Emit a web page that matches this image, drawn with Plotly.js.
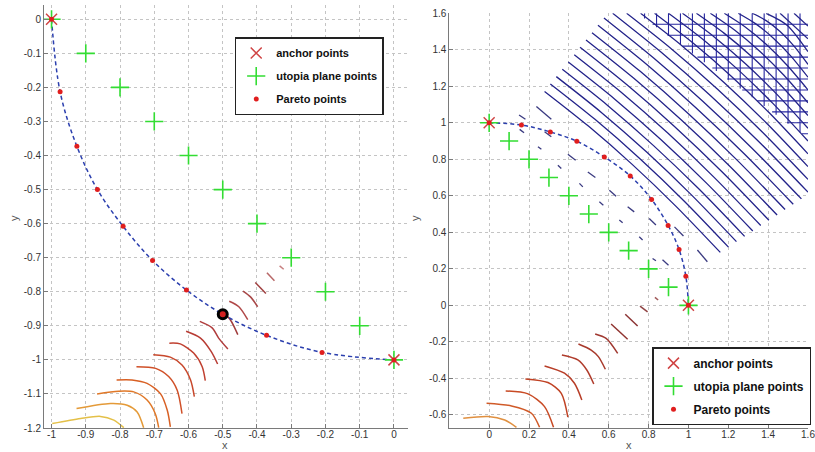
<!DOCTYPE html>
<html><head><meta charset="utf-8">
<script src="https://cdn.plot.ly/plotly-3.0.1.min.js"></script>
<style>html,body{margin:0;padding:0;background:#fff}#chart{width:815px;height:452px}</style>
</head><body><div id="chart"></div>
<script>
// ---------- Left panel data ----------
const anchorL_x = [-1, 0];
const anchorL_y = [0, -1];
const utopiaL_x = [-1, -0.9, -0.8, -0.7, -0.6, -0.5, -0.4, -0.3, -0.2, -0.1, 0];
const utopiaL_y = [0, -0.1, -0.2, -0.3, -0.4, -0.5, -0.6, -0.7, -0.8, -0.9, -1];
const paretoL_x = [-1, -0.975, -0.926, -0.866, -0.791, -0.705, -0.606, -0.5, -0.372, -0.21, 0];
const paretoL_y = [0, -0.213, -0.373, -0.5, -0.608, -0.708, -0.795, -0.866, -0.928, -0.978, -1];
const chosenL_x = [-0.5];
const chosenL_y = [-0.866];
const contL_x = [
  [-0.334,-0.322],[-0.371,-0.349],[-0.405,-0.374],[-0.441,-0.419,-0.398],[-0.481,-0.453,-0.427],
  [-0.507,-0.478,-0.456],[-0.567,-0.531,-0.512,-0.485],[-0.607,-0.565,-0.534,-0.515],
  [-0.656,-0.624,-0.585,-0.560,-0.551],[-0.703,-0.653,-0.619,-0.594,-0.583],
  [-0.752,-0.696,-0.658,-0.633,-0.619],[-0.810,-0.765,-0.721,-0.682,-0.662,-0.653],
  [-0.867,-0.804,-0.760,-0.721,-0.697,-0.687],[-0.927,-0.828,-0.779,-0.750,-0.731],
  [-0.998,-0.915,-0.857,-0.818,-0.789]
];
const contL_y = [
  [-0.724,-0.734],[-0.744,-0.768],[-0.773,-0.805],[-0.798,-0.815,-0.844],[-0.828,-0.844,-0.882],
  [-0.852,-0.882,-0.926],[-0.887,-0.906,-0.936,-0.968],[-0.916,-0.936,-0.975,-1.012],
  [-0.951,-0.953,-0.980,-1.020,-1.061],[-0.985,-0.992,-1.015,-1.059,-1.108],
  [-1.020,-1.025,-1.049,-1.089,-1.158],[-1.059,-1.059,-1.069,-1.099,-1.148,-1.197],
  [-1.100,-1.092,-1.094,-1.118,-1.158,-1.199],[-1.143,-1.128,-1.133,-1.153,-1.199],
  [-1.187,-1.172,-1.166,-1.177,-1.199]
];
const contL_color = ['#c88080','#b86868','#a04040','#a84848','#b04848','#a03c3c','#b03c3c','#b83c34',
  '#c04030','#c8482c','#d05028','#d86024','#e07828','#e49a38','#e4c048'];
const xticksL = [-1,-0.9,-0.8,-0.7,-0.6,-0.5,-0.4,-0.3,-0.2,-0.1,0];
const xtextL = ['-1','-0.9','-0.8','-0.7','-0.6','-0.5','-0.4','-0.3','-0.2','-0.1','0'];
const yticksL = [0,-0.1,-0.2,-0.3,-0.4,-0.5,-0.6,-0.7,-0.8,-0.9,-1,-1.1,-1.2];
const ytextL = ['0','-0.1','-0.2','-0.3','-0.4','-0.5','-0.6','-0.7','-0.8','-0.9','-1','-1.1','-1.2'];

// ---------- Right panel data ----------
const anchorR_x = [0, 1];
const anchorR_y = [1, 0];
const utopiaR_x = [0, 0.1, 0.2, 0.3, 0.4, 0.5, 0.6, 0.7, 0.8, 0.9, 1];
const utopiaR_y = [1, 0.9, 0.8, 0.7, 0.6, 0.5, 0.4, 0.3, 0.2, 0.1, 0];
const paretoR_x = [0, 0.162, 0.307, 0.44, 0.578, 0.708, 0.815, 0.898, 0.953, 0.987, 1];
const paretoR_y = [1, 0.988, 0.95, 0.899, 0.813, 0.709, 0.58, 0.438, 0.306, 0.16, 0];
const contR_x = [
  [0.832,0.848],[0.757,0.795],[0.683,0.745],[0.612,0.695],[0.532,0.587,0.645],
  [0.448,0.512,0.548,0.583],[0.365,0.445,0.49,0.525],[0.278,0.378,0.428,0.465],
  [0.182,0.295,0.362,0.395],[0.083,0.195,0.278,0.323],[-0.013,0.112,0.212,0.253],
  [-0.13,-0.005,0.078,0.137]
];
const contR_y = [
  [0.044,0.029],[-0.004,-0.036],[-0.049,-0.113],[-0.102,-0.186],[-0.157,-0.181,-0.263],
  [-0.212,-0.245,-0.281,-0.350],[-0.272,-0.299,-0.354,-0.431],[-0.332,-0.372,-0.427,-0.518],
  [-0.403,-0.423,-0.482,-0.613],[-0.469,-0.485,-0.555,-0.668],[-0.536,-0.551,-0.591,-0.668],
  [-0.619,-0.609,-0.628,-0.668]
];
const contR_color = ['#a05858','#904444','#8c3434','#903430','#a03830','#a83a2c','#b03c2c','#b83e28',
  '#c04224','#c84a24','#d05a28','#e09040'];
const blueR_x = [
  [0.278,0.498,0.719,0.939,1.160],[0.307,0.531,0.754,0.978,1.201],[0.337,0.563,0.789,1.015,1.241],
  [0.367,0.596,0.825,1.053,1.282],[0.397,0.629,0.860,1.092,1.323],[0.427,0.661,0.895,1.129,1.363],
  [0.456,0.693,0.930,1.167,1.404],[0.486,0.726,0.966,1.205,1.445],[0.516,0.758,1.000,1.243,1.485],
  [0.546,0.791,1.036,1.281,1.526],[0.576,0.824,1.072,1.319,1.567],[0.62,0.865,1.11,1.355,1.6],
  [0.69,0.918,1.145,1.373,1.6],[0.76,0.97,1.18,1.39,1.6],[0.83,1.023,1.215,1.408,1.6],
  [0.90,1.075,1.25,1.425,1.6],[0.97,1.128,1.285,1.443,1.6],[1.04,1.18,1.32,1.46,1.6],
  [1.11,1.233,1.355,1.478,1.6],[1.18,1.285,1.39,1.495,1.6],[1.25,1.338,1.425,1.513,1.6],
  [1.32,1.39,1.46,1.53,1.6],[1.39,1.495,1.6],[1.46,1.6],[1.53,1.6]
];
const blueR_y = [
  [1.172,0.982,0.771,0.541,0.290],[1.213,1.019,0.806,0.572,0.319],[1.253,1.057,0.841,0.605,0.349],
  [1.293,1.094,0.875,0.637,0.378],[1.333,1.131,0.910,0.668,0.407],[1.373,1.169,0.945,0.701,0.437],
  [1.414,1.207,0.980,0.733,0.466],[1.454,1.244,1.014,0.765,0.495],[1.494,1.282,1.050,0.797,0.525],
  [1.534,1.319,1.084,0.829,0.554],[1.574,1.356,1.118,0.861,0.583],[1.6,1.385,1.15,0.895,0.62],
  [1.6,1.402,1.185,0.947,0.69],[1.6,1.42,1.22,1.0,0.76],[1.6,1.437,1.255,1.052,0.83],
  [1.6,1.455,1.29,1.105,0.90],[1.6,1.472,1.325,1.157,0.97],[1.6,1.49,1.36,1.21,1.04],
  [1.6,1.507,1.395,1.262,1.11],[1.6,1.525,1.43,1.315,1.18],[1.6,1.542,1.465,1.367,1.25],
  [1.6,1.56,1.50,1.42,1.32],[1.6,1.535,1.39],[1.6,1.46],[1.6,1.53]
];
const dashR_x = [
  [0.153,0.175],[0.245,0.262],[0.345,0.362],[0.453,0.47],[0.553,0.573],[0.653,0.67],[0.753,0.77],[0.82,0.837],
  [0.15,0.182],[0.278,0.312],[0.395,0.434],[0.495,0.533],[0.603,0.637],[0.695,0.728],[0.803,0.837],
  [0.237,0.312],[1.045,1.095],[0.93,0.975],[0.87,0.9]
];
const dashR_y = [
  [0.964,0.946],[0.869,0.855],[0.768,0.75],[0.668,0.649],[0.567,0.549],[0.467,0.452],[0.376,0.358],[0.257,0.244],
  [1.043,1.019],[0.951,0.924],[0.828,0.795],[0.731,0.70],[0.631,0.598],[0.54,0.512],[0.476,0.44],
  [1.089,1.019],[0.303,0.239],[0.43,0.38],[0.25,0.22]
];
const latV_x = [0.78,0.84,0.90,0.96,1.02,1.08,1.14,1.20,1.26,1.32,1.38,1.44,1.50,1.56];
const latV_ylo = [1.572,1.524,1.476,1.428,1.38,1.332,1.284,1.236,1.188,1.14,1.092,1.044,0.996,0.948];
const latH_y = [0.94,1.00,1.06,1.12,1.18,1.24,1.30,1.36,1.42,1.48,1.54];
const latH_xlo = [1.57,1.495,1.42,1.345,1.27,1.195,1.12,1.045,0.97,0.895,0.82];
const xticksR = [0,0.2,0.4,0.6,0.8,1,1.2,1.4,1.6];
const xtextR = ['0','0.2','0.4','0.6','0.8','1','1.2','1.4','1.6'];
const yticksR = [-0.6,-0.4,-0.2,0,0.2,0.4,0.6,0.8,1,1.2,1.4,1.6];
const ytextR = ['-0.6','-0.4','-0.2','0','0.2','0.4','0.6','0.8','1','1.2','1.4','1.6'];
const axisTitles = ['x', 'y', 'x', 'y'];

// ---------- Build traces ----------
const traces = [];
function segs(xs, ys, colors, width, xa, ya) {
  for (let i = 0; i < xs.length; i++) {
    traces.push({type:'scatter', mode:'lines', x:xs[i], y:ys[i], xaxis:xa, yaxis:ya,
      line:{color: Array.isArray(colors) ? colors[i] : colors, width:width, shape:'spline', smoothing:0.8},
      showlegend:false, hoverinfo:'skip'});
  }
}
segs(contL_x, contL_y, contL_color, 1.5, 'x', 'y');
segs(contR_x, contR_y, contR_color, 1.5, 'x2', 'y2');
segs(latV_x.map(v => [v, v]), latV_ylo.map(v => [v, 1.6]), '#2626a0', 1.1, 'x2', 'y2');
segs(latH_xlo.map(v => [v, 1.6]), latH_y.map(v => [v, v]), '#2626a0', 1.1, 'x2', 'y2');
segs(blueR_x, blueR_y, '#23238a', 1.3, 'x2', 'y2');
segs(dashR_x, dashR_y, '#3a3a80', 1.3, 'x2', 'y2');

const ANCH = '#d04545', UTOP = '#33dd33', PAR = '#e01e1e', CURVE = '#2b3fae';
function panel(ax, ay, ux, uy, px, py, xa, ya, leg) {
  traces.push({type:'scatter', mode:'lines', x:px, y:py, xaxis:xa, yaxis:ya, line:{color:CURVE, width:1.5, dash:'4px,3px', shape:'spline'}, showlegend:false, hoverinfo:'skip'});
  traces.push({type:'scatter', mode:'markers', name:'anchor points', x:ax, y:ay, xaxis:xa, yaxis:ya, legend:leg, legendgroup:'a'+leg,
    marker:{symbol:'x-thin', size:11, color:ANCH, line:{color:ANCH, width:1.5}}});
  traces.push({type:'scatter', mode:'markers', name:'utopia plane points', x:ux, y:uy, xaxis:xa, yaxis:ya, legend:leg, legendgroup:'b'+leg,
    marker:{symbol:'cross-thin', size:13, color:UTOP, line:{color:UTOP, width:1.6}}});
  traces.push({type:'scatter', mode:'markers', name:'Pareto points', x:px, y:py, xaxis:xa, yaxis:ya, legend:leg, legendgroup:'c'+leg,
    marker:{symbol:'circle', size:5, color:PAR}});
}
panel(anchorL_x, anchorL_y, utopiaL_x, utopiaL_y, paretoL_x, paretoL_y, 'x', 'y', 'legend');
traces.push({type:'scatter', mode:'markers', x:chosenL_x, y:chosenL_y, xaxis:'x', yaxis:'y', showlegend:false,
  marker:{symbol:'circle', size:9, color:'#d42020', line:{color:'#000', width:3}}});
panel(anchorR_x, anchorR_y, utopiaR_x, utopiaR_y, paretoR_x, paretoR_y, 'x2', 'y2', 'legend2');

const FONT = 'Liberation Sans, Arial, sans-serif';
function axis(extra) {
  return Object.assign({showgrid:true, gridcolor:'#c4c4c4', griddash:'dot', gridwidth:1, zeroline:false,
    showline:true, linecolor:'#7a7a7a', linewidth:1, ticks:'inside', ticklen:4, tickcolor:'#7a7a7a',
    tickmode:'array', tickfont:{size:10, color:'#333', family:FONT}, automargin:false,
    ticklabeloverflow:'allow'}, extra);
}
const legendBase = {xanchor:'left', yanchor:'top', bgcolor:'#fff', bordercolor:'#222', borderwidth:1.5,
  tracegroupgap:4, traceorder:'grouped', itemclick:false};
// axis titles placed in paper coordinates (margins are zero)
const titlePos = [[225, 445, 0], [14, 218, -90], [629, 445, 0], [415, 218, -90]];
const annotations = axisTitles.map((t, i) => ({text:t, xref:'paper', yref:'paper',
  x:titlePos[i][0] / 815, y:1 - titlePos[i][1] / 452, xanchor:'center', yanchor:'middle',
  textangle:titlePos[i][2], showarrow:false, font:{size:11, color:'#555', family:FONT}}));
const layout = {
  width:815, height:452, margin:{l:0, r:0, t:0, b:0}, paper_bgcolor:'#fff', plot_bgcolor:'#fff',
  font:{family:FONT, size:10, color:'#333'}, showlegend:true, hovermode:false, annotations:annotations,
  xaxis: axis({domain:[0.054, 0.5006], range:[-1.022, 0.041], anchor:'y', tickvals:xticksL, ticktext:xtextL, ticklabelstandoff:-3}),
  yaxis: axis({domain:[0.0531, 0.989], range:[-1.2, 0.042], anchor:'x', tickvals:yticksL, ticktext:ytextL}),
  xaxis2: axis({domain:[0.5513, 0.9914], range:[-0.2, 1.6], anchor:'y2', tickvals:xticksR, ticktext:xtextR, ticklabelstandoff:-3}),
  yaxis2: axis({domain:[0.0531, 0.9706], range:[-0.672, 1.6], anchor:'x2', tickvals:yticksR, ticktext:ytextR}),
  legend: Object.assign({x:0.288, y:0.918, font:{size:11, color:'#111', family:FONT, weight:'bold'}}, legendBase),
  legend2: Object.assign({x:0.800, y:0.232, font:{size:12, color:'#111', family:FONT, weight:'bold'}}, legendBase)
};
Plotly.newPlot('chart', traces, layout, {displayModeBar:false, staticPlot:true});
</script>
</body></html>
